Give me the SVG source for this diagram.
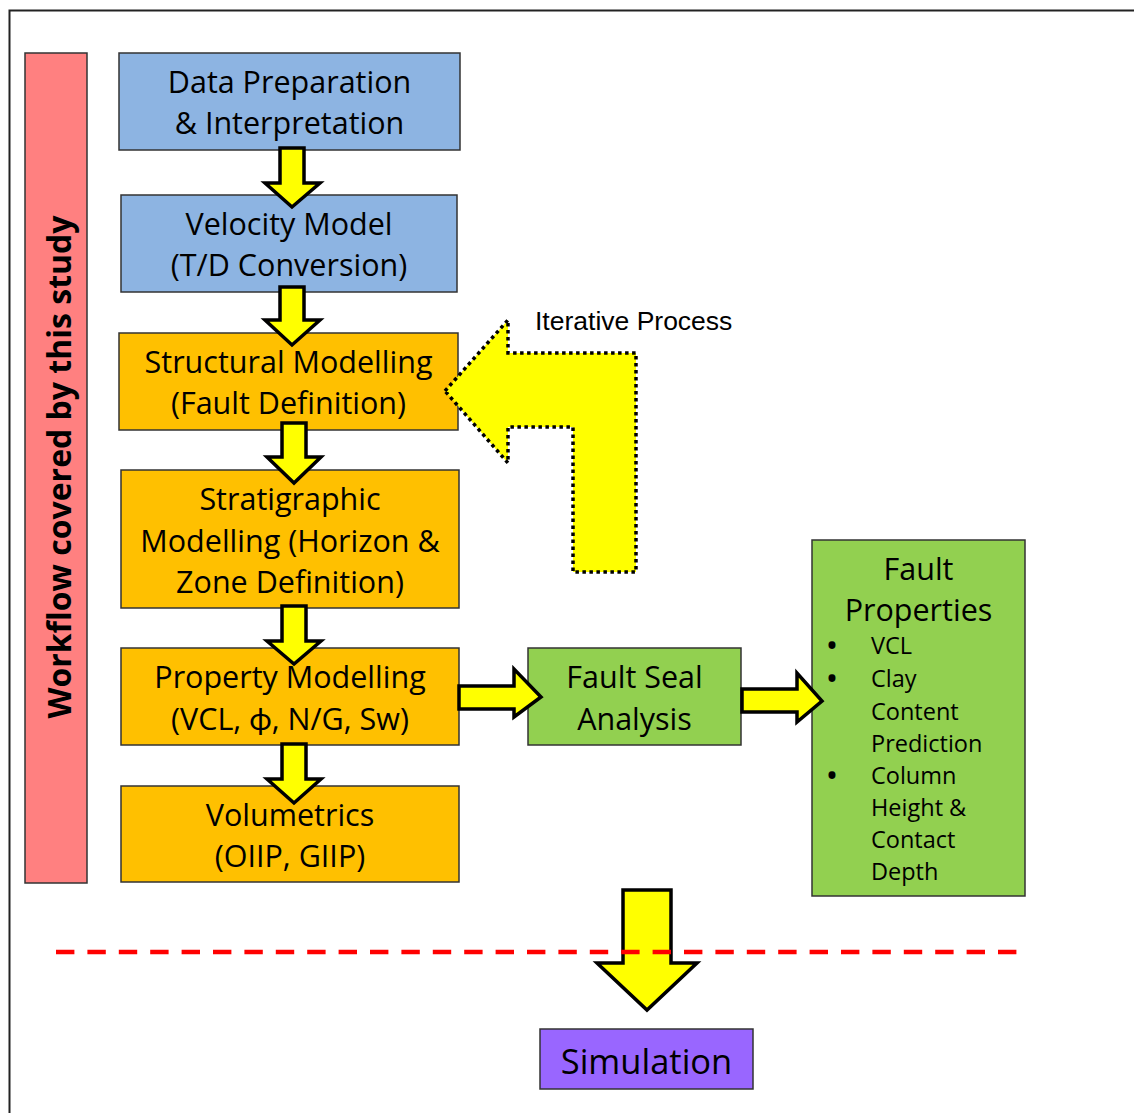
<svg xmlns="http://www.w3.org/2000/svg" width="1134" height="1113" viewBox="0 0 1134 1113">
<style>
.box{stroke:#333;stroke-width:1.5}
.blue{fill:#8DB4E2}
.orange{fill:#FFC000}
.green{fill:#92D050}
.t{font-family:"Open Sans",Lato,sans-serif;font-size:30.5px;fill:#000;text-anchor:middle;dominant-baseline:central}
.s{font-family:"Open Sans",Lato,sans-serif;font-size:23.5px;fill:#000;dominant-baseline:central}
.b{font-family:"Open Sans",Lato,sans-serif;font-size:25px;font-weight:bold;fill:#000;text-anchor:middle;dominant-baseline:central}
.arr{fill:#FFFF00;stroke:#000;stroke-width:3.5;stroke-linejoin:miter}
</style>
<rect x="0" y="0" width="1134" height="1113" fill="#fff"/>
<rect x="9.5" y="10.5" width="1140" height="1120" fill="none" stroke="#222" stroke-width="2"/>

<g id="sidebar">
<rect x="25" y="53" width="62" height="830" fill="#FF8080" class="box"/>
<text transform="translate(58,467) rotate(-90)" text-anchor="middle" dominant-baseline="central" font-family="'Open Sans',Lato,sans-serif" font-weight="bold" font-size="32" fill="#000">Workflow covered by this study</text>
</g>

<g id="data-prep">
<rect x="119" y="53" width="341" height="97" class="box blue"/>
<text class="t" x="289.5" y="81">Data Preparation</text>
<text class="t" x="289.5" y="122">&amp; Interpretation</text>
</g>
<g id="velocity">
<rect x="121" y="195" width="336" height="97" class="box blue"/>
<text class="t" x="289" y="223">Velocity Model</text>
<text class="t" x="289" y="264">(T/D Conversion)</text>
</g>
<g id="structural">
<rect x="119" y="333" width="339" height="97" class="box orange"/>
<text class="t" x="288.5" y="361">Structural Modelling</text>
<text class="t" x="288.5" y="402">(Fault Definition)</text>
</g>
<g id="stratigraphic">
<rect x="121" y="470" width="338" height="138" class="box orange"/>
<text class="t" x="290" y="498">Stratigraphic</text>
<text class="t" x="290" y="540">Modelling (Horizon &amp;</text>
<text class="t" x="290" y="581">Zone Definition)</text>
</g>
<g id="property">
<rect x="121" y="648" width="338" height="97" class="box orange"/>
<text class="t" x="290" y="676">Property Modelling</text>
<text class="t" x="290" y="718">(VCL, ϕ, N/G, Sw)</text>
</g>
<g id="volumetrics">
<rect x="121" y="786" width="338" height="96" class="box orange"/>
<text class="t" x="290" y="814">Volumetrics</text>
<text class="t" x="290" y="855">(OIIP, GIIP)</text>
</g>
<g id="fault-seal">
<rect x="528" y="648" width="213" height="97" class="box green"/>
<text class="t" x="634.5" y="676">Fault Seal</text>
<text class="t" x="634.5" y="718">Analysis</text>
</g>
<g id="fault-properties">
<rect x="812" y="540" width="213" height="356" class="box green"/>
<text class="t" x="918.5" y="568">Fault</text>
<text class="t" x="918.5" y="609">Properties</text>
<text class="b" x="832" y="644">•</text>
<text class="s" x="871" y="645">VCL</text>
<text class="b" x="832" y="677">•</text>
<text class="s" x="871" y="678">Clay</text>
<text class="s" x="871" y="711">Content</text>
<text class="s" x="871" y="743">Prediction</text>
<text class="b" x="832" y="774">•</text>
<text class="s" x="871" y="775">Column</text>
<text class="s" x="871" y="807">Height &amp;</text>
<text class="s" x="871" y="839">Contact</text>
<text class="s" x="871" y="871">Depth</text>
</g>
<g id="iterative-label">
<text x="535" y="321" font-family="'Liberation Sans',Arial,sans-serif" font-size="26.5" fill="#000" dominant-baseline="central">Iterative Process</text>
</g>
<g id="simulation">
<rect x="540" y="1029" width="213" height="60" fill="#9966FF" class="box"/>
<text class="t" x="646.5" y="1060" style="font-size:34.5px">Simulation</text>
</g>

<g id="connectors">
<polygon class="arr" points="280,148 304,148 304,183 320,183 292,207 265,183 280,183"/>
<polygon class="arr" points="280,287 304,287 304,320 320,320 292,345 265,320 280,320"/>
<polygon class="arr" points="282,423 306,423 306,457 321,457 294,483 267,457 282,457"/>
<polygon class="arr" points="282,606 306,606 306,641 321,641 294,664 267,641 282,641"/>
<polygon class="arr" points="282,744 306,744 306,779 321,779 294,803 267,779 282,779"/>
<polygon class="arr" points="459,686 514,686 514,669 541,697 514,717 514,709 459,709"/>
<polygon class="arr" points="742,689 797,689 797,673 822,701 797,722 797,712 742,712"/>
<polygon points="445,391 508,320 508,353 636,353 636,572 573,572 573,427 508,427 508,463" fill="#FFFF00" stroke="#000" stroke-width="3.5" stroke-dasharray="3.5 3.5"/>
<polygon class="arr" points="623,890 671,890 671,963 697,963 647,1010 597,963 623,963"/>
<line x1="56" y1="952" x2="1020" y2="952" stroke="#FF0000" stroke-width="4.5" stroke-dasharray="18.4 13"/>
</g>
</svg>
